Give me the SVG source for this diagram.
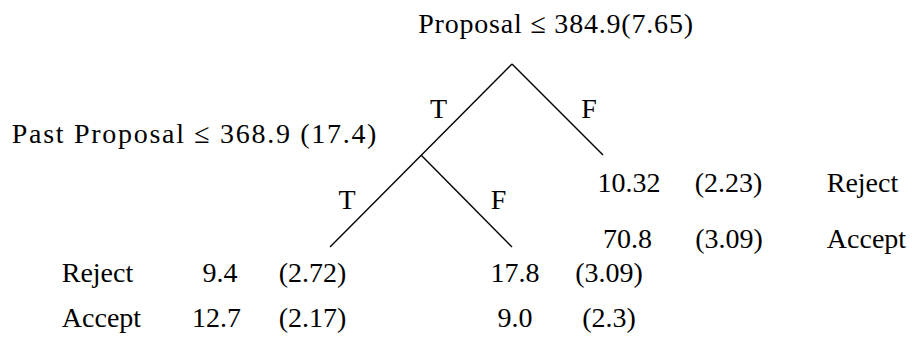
<svg xmlns="http://www.w3.org/2000/svg" width="912" height="345" viewBox="0 0 912 345">
<style>
.edge{stroke:#000;stroke-width:1.4;fill:none}
.t{font-family:'Liberation Serif','DejaVu Serif',serif;font-size:28px;fill:#000;text-anchor:middle}
</style>
<rect width="912" height="345" fill="#fff"/>
<g id="connectors">
<line class="edge" x1="512" y1="64" x2="330" y2="247"/>
<line class="edge" x1="512" y1="64" x2="603" y2="155"/>
<line class="edge" x1="421" y1="155" x2="512" y2="247"/>
<text class="t" x="438.5" y="118">T</text>
<text class="t" x="589" y="118">F</text>
<text class="t" x="347" y="209">T</text>
<text class="t" x="498.5" y="209">F</text>
</g>
<g id="node-root">
<text class="t" x="556" y="33" letter-spacing="0.8">Proposal &#8804; 384.9(7.65)</text>
</g>
<g id="node-past">
<text class="t" x="195" y="143" letter-spacing="1.7">Past Proposal &#8804; 368.9 (17.4)</text>
</g>
<g id="leaf-F">
<text class="t" x="629" y="192">10.32</text>
<text class="t" x="728.5" y="192">(2.23)</text>
<text class="t" x="862.5" y="192">Reject</text>
<text class="t" x="627.5" y="248">70.8</text>
<text class="t" x="729" y="248">(3.09)</text>
<text class="t" x="866.5" y="248">Accept</text>
</g>
<g id="row-labels">
<text class="t" x="97.5" y="282">Reject</text>
<text class="t" x="101.5" y="327">Accept</text>
</g>
<g id="leaf-TT">
<text class="t" x="220" y="282">9.4</text>
<text class="t" x="312.5" y="282">(2.72)</text>
<text class="t" x="216.5" y="327">12.7</text>
<text class="t" x="312.5" y="327">(2.17)</text>
</g>
<g id="leaf-TF">
<text class="t" x="515" y="282">17.8</text>
<text class="t" x="609" y="282">(3.09)</text>
<text class="t" x="515" y="327">9.0</text>
<text class="t" x="609" y="327">(2.3)</text>
</g>
</svg>
